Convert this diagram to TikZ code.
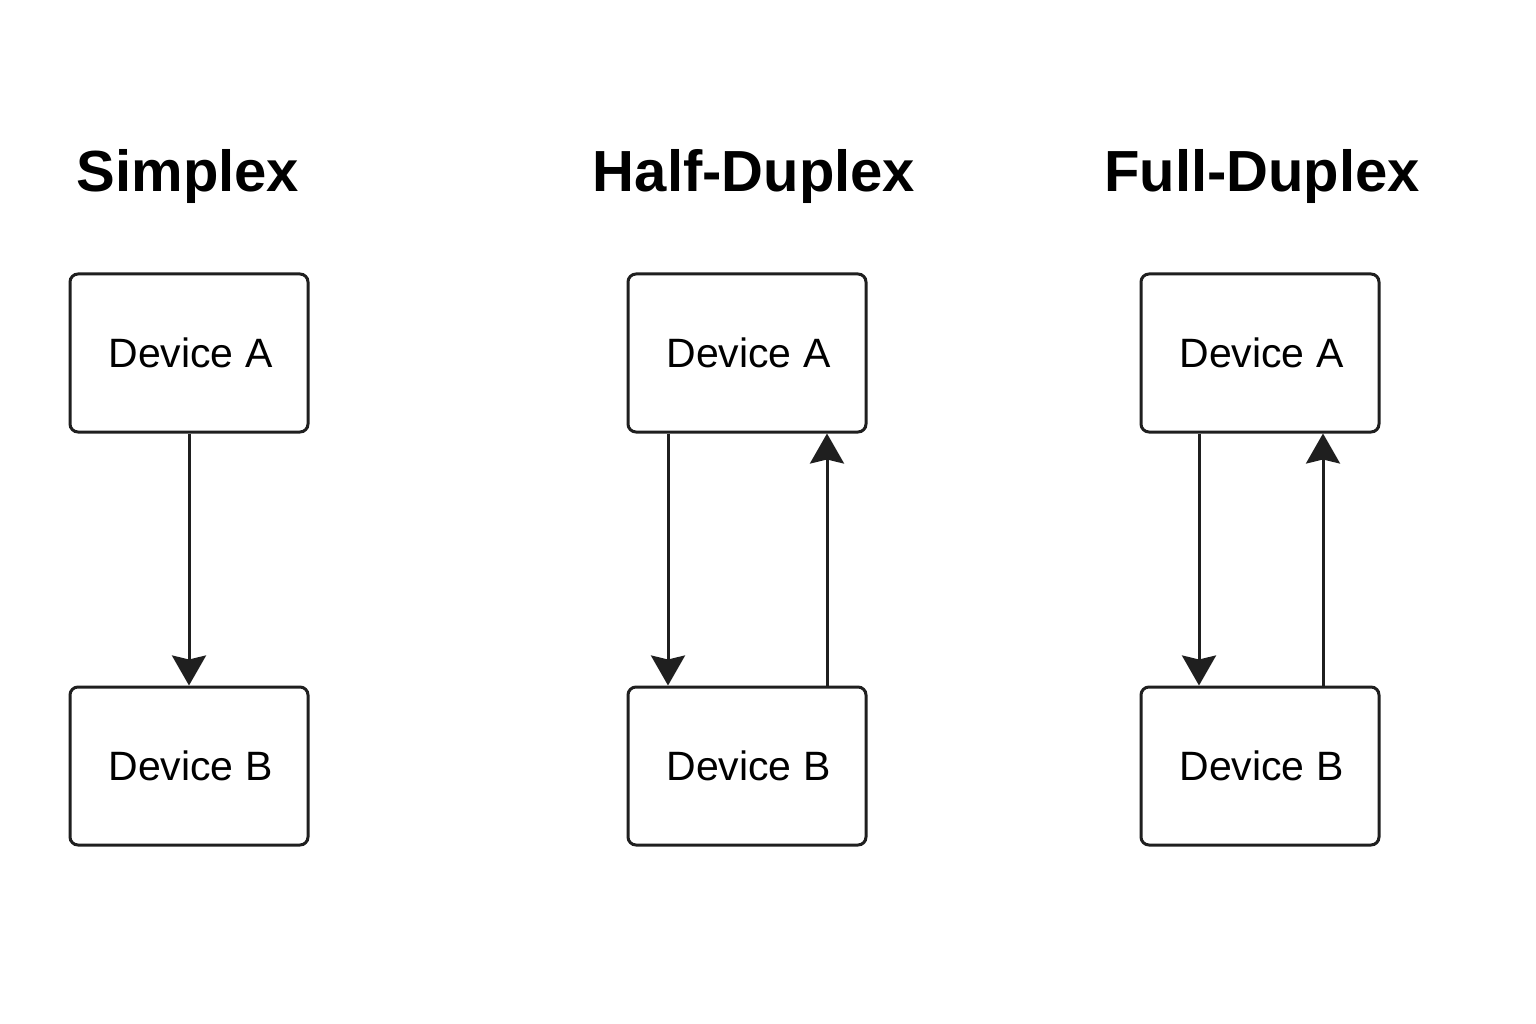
\documentclass[tikz,border=0pt]{standalone}
\usepackage{fontspec}
\setmainfont{Liberation Sans}
\usetikzlibrary{arrows.meta}
\begin{document}
\begin{tikzpicture}[x=1pt,y=-1pt,
  devbox/.style={draw=black!88,line width=3pt,rounded corners=8pt,minimum width=238pt,minimum height=158pt,inner sep=0pt,font=\fontsize{41}{48}\selectfont},
  ttl/.style={font=\fontsize{58}{66}\selectfont\bfseries,anchor=base},
  link/.style={draw=black!88,line width=3pt,-{Stealth[length=30pt,width=34pt,inset=4pt]}}]
\useasboundingbox (0,0) rectangle (1536,1024);
\fill[white] (0,0) rectangle (1536,1024);
% titles
\node[ttl] (t1) at (188,192) {Simplex};
\node[ttl] (t2) at (754,192) {Half-Duplex};
\node[ttl] (t3) at (1262,192) {Full-Duplex};
% boxes
\node[devbox] (a1) at (189,353) {\hspace*{3pt}Device A};
\node[devbox] (b1) at (189,766) {\hspace*{3pt}Device B};
\node[devbox] (a2) at (747,353) {\hspace*{3pt}Device A};
\node[devbox] (b2) at (747,766) {\hspace*{3pt}Device B};
\node[devbox] (a3) at (1260,353) {\hspace*{3pt}Device A};
\node[devbox] (b3) at (1260,766) {\hspace*{3pt}Device B};
% arrows
\draw[link] (a1.south) -- (b1.north);
\draw[link] (a2.south -| 668,0) -- (b2.north -| 668,0);
\draw[link] (b2.north -| 827,0) -- (a2.south -| 827,0);
\draw[link] (a3.south -| 1199,0) -- (b3.north -| 1199,0);
\draw[link] (b3.north -| 1323,0) -- (a3.south -| 1323,0);
\end{tikzpicture}
\end{document}
